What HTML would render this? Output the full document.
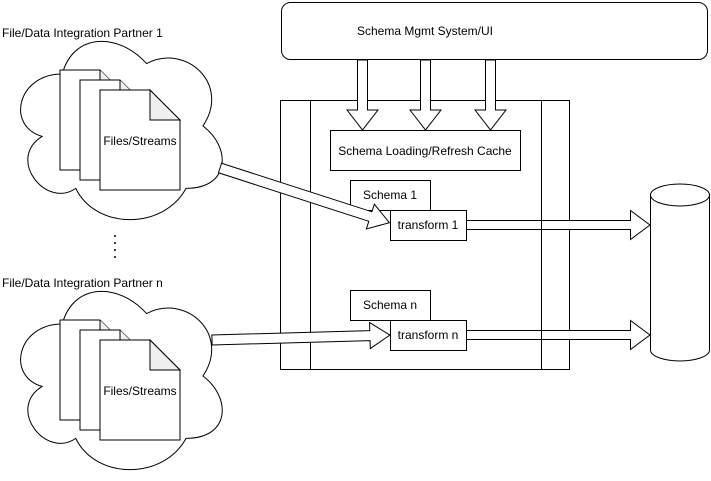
<!DOCTYPE html>
<html><head><meta charset="utf-8"><style>
html,body{margin:0;padding:0;background:#fff;}
svg{display:block;font-family:"Liberation Sans",Arial,sans-serif;font-size:12px;}
</style></head><body>
<svg width="711" height="481" viewBox="0 0 711 481" xmlns="http://www.w3.org/2000/svg">
<defs>
<g id="cloud">
<path d="M56.25,52 C11.25,52 0,104 36,114.4 C0,137.3 40.5,187.2 69.75,166.4 C90,208 157.5,208 180,166.4 C225,166.4 225,124.8 196.9,104 C225,62.4 180,20.8 140.6,41.6 C112.5,10.4 67.5,10.4 56.25,52 Z" fill="#fff" stroke="#000" stroke-width="1"/>
</g>
<g id="docs">
<path d="M60,70 H100 L110,80 V170 H60 Z" fill="#fff" stroke="#000"/>
<path d="M100,70 V80 H110" fill="#f0f0f0" stroke="#000"/>
<path d="M80,80 H120 L130,90 V180 H80 Z" fill="#fff" stroke="#000"/>
<path d="M120,80 V90 H130" fill="#f0f0f0" stroke="#000"/>
<path d="M100,90 H150 L180,120 V190 H100 Z" fill="#fff" stroke="#000"/>
<path d="M150,90 V120 H180 Z" fill="#f0f0f0" stroke="#000"/>
<text x="140" y="145" text-anchor="middle">Files/Streams</text>
</g>
</defs>
<text x="2" y="37">File/Data Integration Partner 1</text>
<g transform="translate(6,22)"><use href="#cloud"/></g>
<use href="#docs"/>
<text x="2" y="287">File/Data Integration Partner n</text>
<g transform="translate(6,272)"><use href="#cloud"/></g>
<g transform="translate(0,250)"><use href="#docs"/></g>
<g fill="#000"><circle cx="115" cy="236" r="1"/><circle cx="115" cy="243" r="1"/><circle cx="115" cy="250" r="1"/><circle cx="115" cy="257" r="1"/></g>

<rect x="281.5" y="2.5" width="426" height="57" rx="9" fill="#fff" stroke="#000"/>
<text x="425" y="35" text-anchor="middle">Schema Mgmt System/UI</text>

<rect x="280.5" y="100.5" width="289" height="269" fill="#fff" stroke="#000"/>
<line x1="310.5" y1="100" x2="310.5" y2="370" stroke="#000"/>
<line x1="541.5" y1="100" x2="541.5" y2="370" stroke="#000"/>

<g fill="#fff" stroke="#000">
<polygon points="357.5,60 367.5,60 367.5,110 378,110 362.5,130 347,110 357.5,110"/>
<polygon points="420.5,60 430.5,60 430.5,110 441,110 425.5,130 410,110 420.5,110"/>
<polygon points="485.5,60 495.5,60 495.5,110 506,110 490.5,130 475,110 485.5,110"/>
</g>
<rect x="330.5" y="130.5" width="190" height="40" fill="#fff" stroke="#000"/>
<text x="425" y="155" text-anchor="middle">Schema Loading/Refresh Cache</text>

<rect x="350.5" y="180.5" width="80" height="30" fill="#fff" stroke="#000"/>
<text x="390" y="199" text-anchor="middle">Schema 1</text>
<rect x="350.5" y="290.5" width="80" height="30" fill="#fff" stroke="#000"/>
<text x="390" y="309" text-anchor="middle">Schema n</text>

<g fill="#fff" stroke="#000">
<g transform="translate(220,168) rotate(17.9)"><polygon points="0,-5 158,-5 158,-13 178,0 158,13 158,5 0,5"/></g>
<g transform="translate(212,340) rotate(-1.6)"><polygon points="0,-5 158,-5 158,-13 178,0 158,13 158,5 0,5"/></g>
</g>

<rect x="390.5" y="210.5" width="76" height="30" fill="#fff" stroke="#000"/>
<text x="428" y="229" text-anchor="middle">transform 1</text>
<rect x="390.5" y="320.5" width="76" height="30" fill="#fff" stroke="#000"/>
<text x="428" y="339" text-anchor="middle">transform n</text>

<g fill="#fff" stroke="#000">
<polygon points="466.5,220.5 630.5,220.5 630.5,210.5 650,225 630.5,239.5 630.5,229.5 466.5,229.5"/>
<polygon points="466.5,330.5 630.5,330.5 630.5,320.5 650,335 630.5,349.5 630.5,339.5 466.5,339.5"/>
</g>
<line x1="541.5" y1="220" x2="541.5" y2="230" stroke="#000"/>
<line x1="541.5" y1="330" x2="541.5" y2="340" stroke="#000"/>

<path d="M650.5,195 A29.5,11 0 0 1 709.5,195 V350 A29.5,11 0 0 1 650.5,350 Z" fill="#fff" stroke="#000"/>
<path d="M650.5,195 A29.5,11 0 0 0 709.5,195" fill="none" stroke="#000"/>
</svg>
</body></html>
